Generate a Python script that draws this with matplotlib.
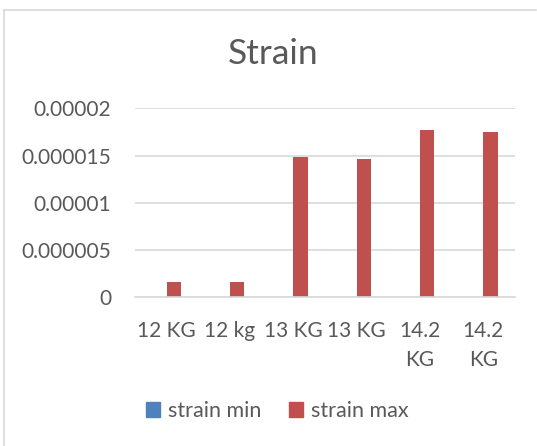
import matplotlib.pyplot as plt
import numpy as np
from matplotlib.lines import Line2D
from matplotlib.patches import Patch

# strain per load case, two series (min is zero everywhere)
loads = ["12 KG", "12 kg", "13 KG", "13 KG", "14.2\nKG", "14.2\nKG"]
strain_min = [0, 0, 0, 0, 0, 0]
strain_max = [1.59e-6, 1.57e-6, 1.488e-5, 1.467e-5, 1.770e-5, 1.749e-5]

BLUE = "#4F81BD"
RED = "#C0504D"
TEXT = "#595959"
GRID = "#D9D9D9"

plt.rcParams["font.family"] = ["Lato", "DejaVu Sans"]

fig = plt.figure(figsize=(5.37, 4.46), dpi=100)
ax = fig.add_axes([135 / 537, 1 - 297.3 / 446, 380 / 537, 189 / 446])

x = np.arange(len(loads))
w = 0.227
ax.bar(x - w / 2, strain_min, width=w, color=BLUE, label="strain min")
ax.bar(x + w / 2, strain_max, width=w, color=RED, label="strain max")

ax.set_xlim(-0.5, len(loads) - 0.5)
ax.set_ylim(0, 2e-5)
yt = [0, 5e-6, 1e-5, 1.5e-5, 2e-5]
ax.set_yticks(yt)
ax.set_yticklabels(["0", "0.000005", "0.00001", "0.000015", "0.00002"])
ax.set_xticks(x)
ax.set_xticklabels(loads, multialignment="center", linespacing=1.55)
ax.tick_params(axis="both", length=0, labelsize=15, colors=TEXT)
ax.tick_params(axis="y", pad=17)
ax.tick_params(axis="x", pad=17)

ax.grid(axis="y", color=GRID, linewidth=1.2)
ax.set_axisbelow(True)
for side in ("left", "right", "top"):
    ax.spines[side].set_visible(False)
ax.spines["bottom"].set_color(GRID)
ax.spines["bottom"].set_linewidth(1.2)

fig.text(273 / 537, 1 - 54 / 446, "Strain", ha="center", va="center",
         fontsize=25.5, color=TEXT)

handles = [Patch(color=BLUE), Patch(color=RED)]
fig.legend(handles, ["strain min", "strain max"], loc="center",
           bbox_to_anchor=(277.5 / 537, 1 - 411 / 446), ncol=2, frameon=False,
           fontsize=15.5, labelcolor=TEXT, handlelength=0.65, handleheight=0.65,
           handletextpad=0.35, columnspacing=1.3)

# chart area frame (top and left edges)
fig.add_artist(Line2D([3.5 / 537, 536 / 537], [1 - 9.5 / 446, 1 - 9.5 / 446],
                      transform=fig.transFigure, color=GRID, linewidth=1.2))
fig.add_artist(Line2D([3.8 / 537, 3.8 / 537], [0, 1 - 9.5 / 446],
                      transform=fig.transFigure, color=GRID, linewidth=1.2))

fig.savefig("out.png", dpi=100)
